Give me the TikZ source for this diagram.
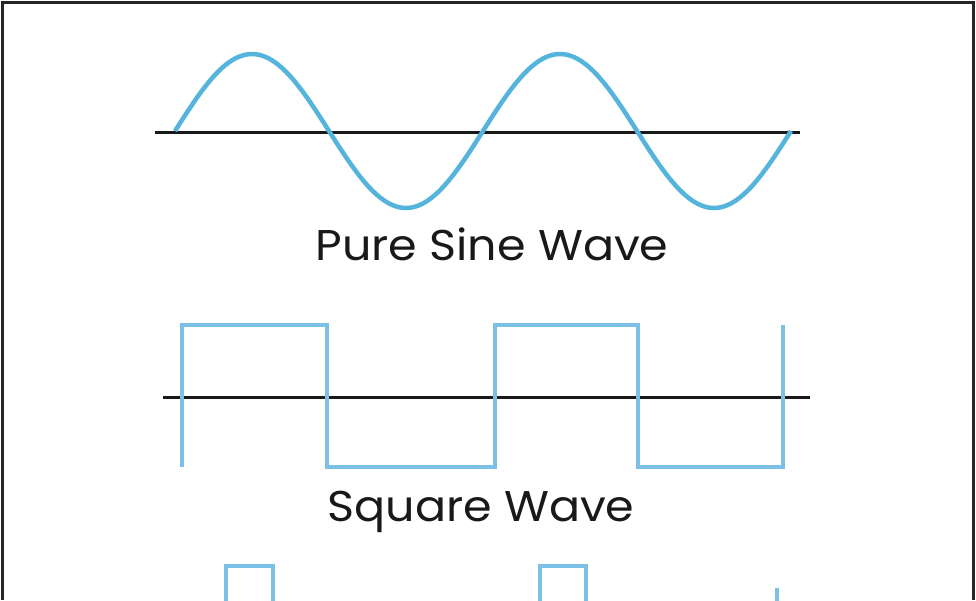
\documentclass[tikz,border=0pt]{standalone}
\usepackage{fontspec}
\setmainfont{Poppins}
\begin{document}
\begin{tikzpicture}[x=1pt,y=-1pt,
  axis/.style={line width=3pt,black!90},
  sinec/.style={line width=4.5pt,color={rgb,255:red,85;green,180;blue,220}},
  sqc/.style={line width=4pt,color={rgb,255:red,125;green,192;blue,230}},
  lbl/.style={font=\fontsize{43}{46}\selectfont,text=black!90,xscale=1.07}]
\useasboundingbox (0,0) rectangle (976,600);
\fill[white] (0,0) rectangle (976,600);
\draw[line width=3pt,black!85] (2,600) -- (2,2) -- (973,2) -- (973,600);
% sine
\draw[axis] (155,132) -- (800,132);
\draw[sinec] plot[domain=175:791,samples=200,smooth] (\x,{131-77*sin((\x-175)/308*360)});
\node[lbl] (t1) at (492,244) {Pure Sine Wave};
% square
\draw[axis] (163,397) -- (810,397);
\draw[sqc] (182,467) -- (182,325) -- (327,325) -- (327,467) -- (495,467) -- (495,325) -- (638,325) -- (638,467) -- (783,467) -- (783,325);
\node[lbl] (t2) at (481,512) {Square Wave};
% pulses
\draw[sqc] (226,602) -- (226,566) -- (273,566) -- (273,602);
\draw[sqc] (540,602) -- (540,566) -- (586,566) -- (586,602);
\draw[sqc] (777,588) -- (777,602);
\end{tikzpicture}
\end{document}
